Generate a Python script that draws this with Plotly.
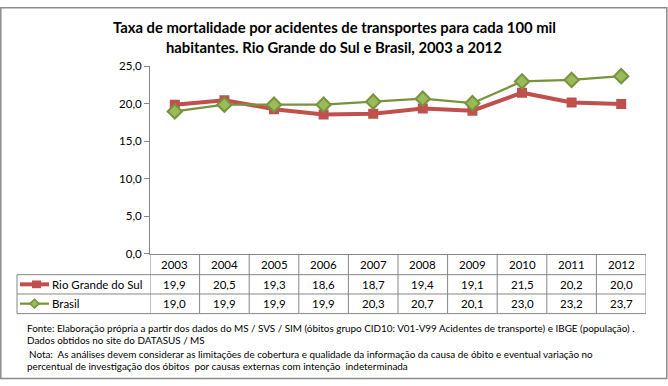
import plotly.graph_objects as go

years = ["2003", "2004", "2005", "2006", "2007", "2008", "2009", "2010", "2011", "2012"]
rs_values = [19.9, 20.5, 19.3, 18.6, 18.7, 19.4, 19.1, 21.5, 20.2, 20.0]
br_values = [19.0, 19.9, 19.9, 19.9, 20.3, 20.7, 20.1, 23.0, 23.2, 23.7]
series_names = ["Rio Grande do Sul", "Brasil"]
y_ticks = [0, 5, 10, 15, 20, 25]

title_lines = ["Taxa de mortalidade por acidentes de transportes para cada 100 mil",
               "habitantes. Rio Grande do Sul e Brasil, 2003 a 2012"]
footer_lines = [
    "Fonte: Elaboração própria a partir dos dados do MS / SVS / SIM (óbitos grupo CID10: V01-V99 Acidentes de transporte) e IBGE (população) .",
    "Dados obtidos no site do DATASUS / MS",
    "Nota:  As análises devem considerar as limitações de cobertura e qualidade da informação da causa de óbito e eventual variação no",
    "percentual de investigação dos óbitos  por causas externas com intenção  indeterminada",
]

W, H = 668, 386
FONT = "Lato"
RED = "#C0504D"
GREEN_LINE = "#77933C"
GREEN_FILL = "#9BBB59"
GRID = "#868686"


def px(x):
    return x / W


def py(y):
    return 1 - y / H


fig = go.Figure()
fig.add_trace(go.Scatter(x=years, y=rs_values, name=series_names[0], mode="lines+markers",
                         line=dict(color=RED, width=4),
                         marker=dict(symbol="square", size=10, color=RED)))
fig.add_trace(go.Scatter(x=years, y=br_values, name=series_names[1], mode="lines+markers",
                         line=dict(color=GREEN_LINE, width=2.25),
                         marker=dict(symbol="diamond", size=11, color=GREEN_FILL,
                                     line=dict(color=GREEN_LINE, width=2))))

x_left, x_right = 150, 646
y_top, y_bot = 61.5, 255.5
row1, row2, row3 = 277, 297, 317.3
lbl_left = 17

shapes = []
line_style = dict(color=GRID, width=1)
# outer border
shapes.append(dict(type="rect", xref="paper", yref="paper", x0=px(0.8), x1=px(W - 1.2), y0=py(384.5), y1=py(0.8),
                   line=dict(color="#8C8C8C", width=1.5), fillcolor="rgba(0,0,0,0)"))
# horizontal table lines
for yy in (row1, row2, row3):
    shapes.append(dict(type="line", xref="paper", yref="paper", x0=px(lbl_left), x1=px(x_right),
                       y0=py(yy), y1=py(yy), line=line_style))
# label column left border
shapes.append(dict(type="line", xref="paper", yref="paper", x0=px(lbl_left), x1=px(lbl_left),
                   y0=py(row1), y1=py(row3), line=line_style))
# vertical column boundaries
for i in range(len(years) + 1):
    shapes.append(dict(type="line", xref="x", yref="paper", x0=i - 0.5, x1=i - 0.5,
                       y0=py(y_bot), y1=py(row3), line=line_style))
# legend keys
ky1, ky2 = 287, 307
shapes.append(dict(type="line", xref="paper", yref="paper", x0=px(20), x1=px(49), y0=py(ky1), y1=py(ky1),
                   line=dict(color=RED, width=4)))
shapes.append(dict(type="rect", xref="paper", yref="paper", x0=px(32), x1=px(41), y0=py(ky1 + 4), y1=py(ky1 - 4),
                   line=dict(color=RED, width=0), fillcolor=RED))
shapes.append(dict(type="line", xref="paper", yref="paper", x0=px(20), x1=px(49), y0=py(ky2), y1=py(ky2),
                   line=dict(color=GREEN_LINE, width=2.25)))
cx, cy, r = 34.5, ky2, 4.5
shapes.append(dict(type="path", xref="paper", yref="paper",
                   path=f"M {px(cx - r)},{py(cy)} L {px(cx)},{py(cy - r)} L {px(cx + r)},{py(cy)} L {px(cx)},{py(cy + r)} Z",
                   line=dict(color=GREEN_LINE, width=1.5), fillcolor=GREEN_FILL))

annotations = []
# title
for i, t in enumerate(title_lines):
    annotations.append(dict(text=f"<b>{t}</b>", xref="paper", yref="paper", x=px(334), y=py(21 + 20 * i),
                            xanchor="center", yanchor="middle", showarrow=False,
                            font=dict(family=FONT, size=14.8, color="#000000")))
# table header and values
fmt = lambda v: f"{v:.1f}".replace(".", ",")
tfont = dict(family=FONT, size=11.5, color="#000")
for j, yr in enumerate(years):
    annotations.append(dict(text=yr, xref="x", yref="paper", x=j, y=py(266), showarrow=False,
                            xanchor="center", yanchor="middle", font=tfont))
    annotations.append(dict(text=fmt(rs_values[j]), xref="x", yref="paper", x=j, y=py(287), showarrow=False,
                            xanchor="center", yanchor="middle", font=tfont))
    annotations.append(dict(text=fmt(br_values[j]), xref="x", yref="paper", x=j, y=py(307), showarrow=False,
                            xanchor="center", yanchor="middle", font=tfont))
for name, yy in zip(series_names, (ky1, ky2)):
    annotations.append(dict(text=name, xref="paper", yref="paper", x=px(50), y=py(yy), showarrow=False,
                            xanchor="left", yanchor="middle", font=tfont))
# footer
footer_y = [332, 345, 359, 371.5]
footer_x = [24.5, 24.5, 27, 24.5]
for t, fx, fy in zip(footer_lines, footer_x, footer_y):
    annotations.append(dict(text=t, xref="paper", yref="paper", x=px(fx), y=py(fy), showarrow=False,
                            xanchor="left", yanchor="middle", font=dict(family=FONT, size=9.9, color="#000")))

fig.update_layout(
    width=W, height=H,
    margin=dict(l=0, r=0, t=0, b=0),
    paper_bgcolor="white", plot_bgcolor="white",
    showlegend=False,
    separators=",.",
    shapes=shapes,
    annotations=annotations,
    xaxis=dict(domain=[px(x_left), px(x_right)], type="category", range=[-0.5, len(years) - 0.5],
               showticklabels=False, showgrid=False, zeroline=False, showline=True,
               linecolor=GRID, linewidth=1, ticks=""),
    yaxis=dict(domain=[py(y_bot), py(y_top)], range=[0, 25], tickvals=y_ticks, tickformat=".1f",
               showgrid=False, zeroline=False, showline=True, linecolor=GRID, linewidth=1,
               ticks="outside", ticklen=5, tickcolor=GRID,
               tickfont=dict(family=FONT, size=11.5, color="#000")),
)

fig.write_html("out.html", config={"displayModeBar": False},
               post_script="document.body.style.margin='0px';")
